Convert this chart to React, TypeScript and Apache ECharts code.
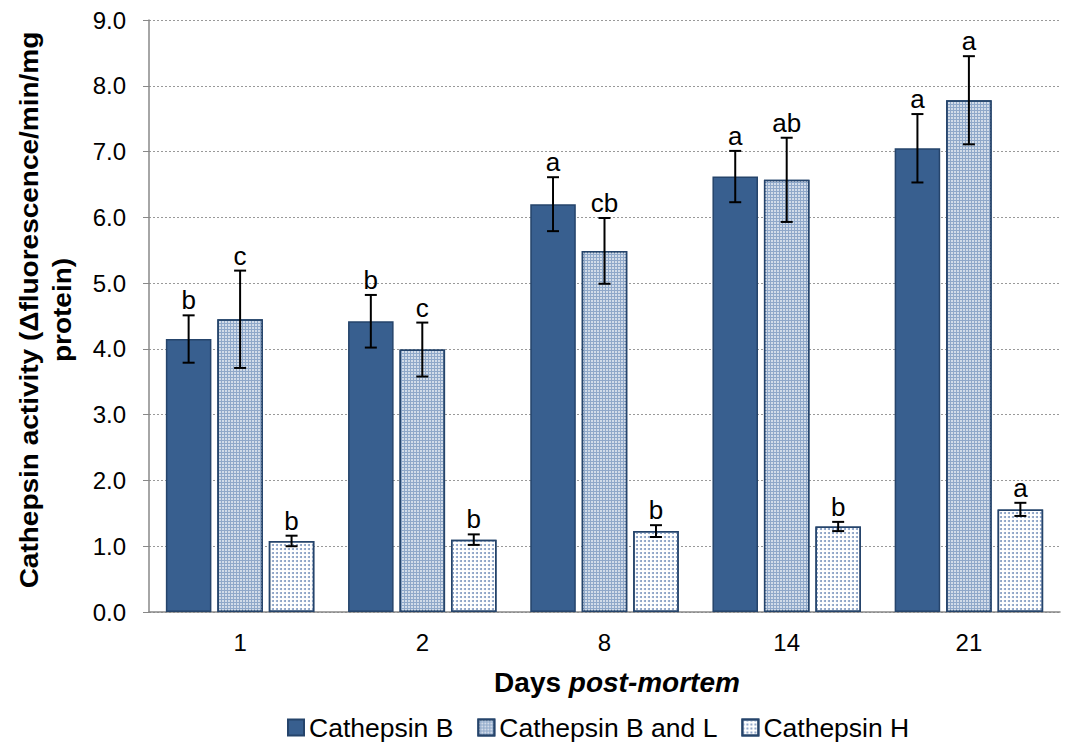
import React, { useEffect, useRef } from "react";
import * as echarts from "echarts";

const days = ["1", "2", "8", "14", "21"];
const seriesNames = ["Cathepsin B", "Cathepsin B and L", "Cathepsin H"];
const catB = [4.15, 4.42, 6.2, 6.62, 7.05];
const catBL = [4.45, 3.99, 5.49, 6.57, 7.78];
const catH = [1.08, 1.1, 1.23, 1.3, 1.56];
const errB = [0.36, 0.4, 0.41, 0.39, 0.52];
const errBL = [0.74, 0.41, 0.5, 0.64, 0.67];
const errH = [0.08, 0.08, 0.09, 0.07, 0.1];
const lettersB = ["b", "b", "a", "a", "a"];
const lettersBL = ["c", "c", "cb", "ab", "a"];
const lettersH = ["b", "b", "b", "b", "a"];
const yTicks = [0, 1, 2, 3, 4, 5, 6, 7, 8, 9];

const BAR_W = 0.25;
const BAR_GAP = 0.13;
const FONT = "'Liberation Sans', Arial, sans-serif";

export default function App() {
  const ref = useRef<HTMLDivElement>(null);
  useEffect(() => {
    if (!ref.current) return;
    const chart = echarts.init(ref.current, null, { renderer: "svg" });
    const values = [catB, catBL, catH];
    const errs = [errB, errBL, errH];
    const letters = [lettersB, lettersBL, lettersH];
    const errData: any[] = [];
    values.forEach((vals, s) => {
      vals.forEach((v, c) => {
        errData.push({
          value: [c, v - errs[s][c], v + errs[s][c], s],
          letter: letters[s][c],
        });
      });
    });
    const border = "#25446b";
    const styles = [
      { color: "#385f8f", borderColor: border, borderWidth: 1.5 },
      {
        color: "#8fa8c9",
        borderColor: border,
        borderWidth: 1.5,
        decal: {
          symbol: "rect",
          symbolSize: 1,
          color: "rgba(255,255,255,0.6)",
          dashArrayX: [2, 1],
          dashArrayY: [2, 1],
          rotation: 0,
        },
      },
      {
        color: "#ffffff",
        borderColor: border,
        borderWidth: 1.5,
        decal: {
          symbol: "circle",
          symbolSize: 1,
          color: "#7f99c0",
          dashArrayX: [2, 2],
          dashArrayY: [2, 2],
          rotation: 0,
        },
      },
    ];
    const option: any = {
      animation: false,
      backgroundColor: "#ffffff",
      grid: { left: 149, right: 7, top: 20, bottom: 135, containLabel: false },
      legend: {
        bottom: 1,
        left: 282,
        itemWidth: 16,
        itemHeight: 16,
        itemGap: 24,
        icon: "rect",
        data: seriesNames,
        textStyle: { fontFamily: FONT, fontSize: 26.5, color: "#000" },
      },
      xAxis: {
        type: "category",
        data: days,
        axisLine: { lineStyle: { color: "#888", width: 1.5 } },
        axisTick: { inside: true, length: 6, lineStyle: { color: "#888" } },
        axisLabel: { fontFamily: FONT, fontSize: 24, color: "#000", margin: 18 },
      },
      yAxis: {
        type: "value",
        min: yTicks[0],
        max: yTicks[yTicks.length - 1],
        interval: 1,
        axisLine: { show: true, lineStyle: { color: "#888", width: 1.5 } },
        axisTick: { show: true, length: 6, lineStyle: { color: "#888" } },
        splitLine: { lineStyle: { color: "#999", type: [2, 2], width: 1 } },
        axisLabel: {
          fontFamily: FONT,
          fontSize: 24,
          color: "#000",
          margin: 23,
          formatter: (v: number) => v.toFixed(1),
        },
      },
      graphic: [
        {
          type: "text",
          x: 46,
          y: 310,
          rotation: Math.PI / 2,
          scaleX: 1.12,
          style: {
            text: "Cathepsin activity (Δfluorescence/min/mg\nprotein)",
            fontFamily: FONT,
            fontWeight: "bold",
            fontSize: 25,
            fill: "#000",
            textAlign: "center",
            textVerticalAlign: "middle",
            lineHeight: 33,
          },
        },
        {
          type: "text",
          x: 617,
          y: 682,
          style: {
            rich: {
              a: { fontFamily: FONT, fontWeight: "bold", fontSize: 28, fill: "#000" },
              b: { fontFamily: FONT, fontWeight: "bold", fontStyle: "italic", fontSize: 28, fill: "#000" },
            },
            text: "{a|Days }{b|post-mortem}",
            textAlign: "center",
            textVerticalAlign: "middle",
          },
        },
      ],
      series: [
        ...values.map((vals, s) => ({
          type: "bar",
          name: seriesNames[s],
          data: vals,
          barWidth: BAR_W * 100 + "%",
          barGap: BAR_GAP * 100 + "%",
          itemStyle: styles[s],
        })),
        {
          type: "custom",
          data: errData,
          z: 10,
          renderItem: (params: any, api: any) => {
            const c = api.value(0);
            const lo = api.value(1);
            const hi = api.value(2);
            const s = api.value(3);
            const band = api.size([1, 0])[0];
            const bw = band * BAR_W;
            const gap = bw * BAR_GAP;
            const x = api.coord([c, 0])[0] + (s - 1) * (bw + gap);
            const yLo = api.coord([c, lo])[1];
            const yHi = api.coord([c, hi])[1];
            const cap = 6;
            const ls = { stroke: "#000", lineWidth: 2 };
            const letter = errData[params.dataIndex].letter;
            return {
              type: "group",
              children: [
                { type: "line", shape: { x1: x, y1: yLo, x2: x, y2: yHi }, style: ls },
                { type: "line", shape: { x1: x - cap, y1: yLo, x2: x + cap, y2: yLo }, style: ls },
                { type: "line", shape: { x1: x - cap, y1: yHi, x2: x + cap, y2: yHi }, style: ls },
                {
                  type: "text",
                  x: x,
                  y: yHi - 2,
                  style: {
                    text: letter,
                    fontFamily: FONT,
                    fontSize: 26,
                    fill: "#000",
                    textAlign: "center",
                    textVerticalAlign: "bottom",
                  },
                },
              ],
            };
          },
        },
      ],
    };
    chart.setOption(option);
    return () => chart.dispose();
  }, []);
  return <div ref={ref} style={{ width: 1067, height: 747, position: "absolute", left: 0, top: 0 }} />;
}
